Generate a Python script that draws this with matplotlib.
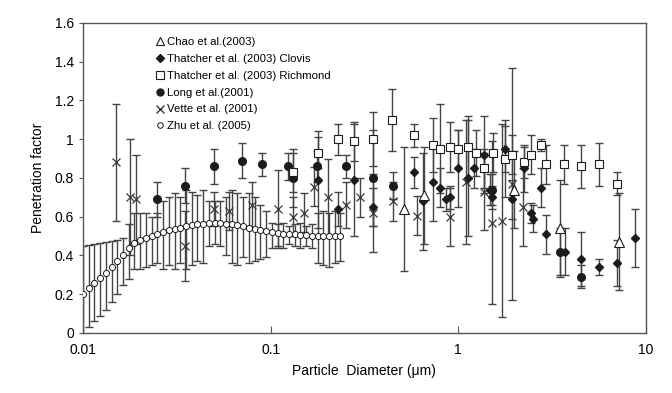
import numpy as np
import matplotlib
matplotlib.use("Agg")
import matplotlib.pyplot as plt
from matplotlib.lines import Line2D

plt.rcParams["font.family"] = ["Liberation Sans", "DejaVu Sans"]

# Zhu et al. (2005): mean with lower / upper bar ends
zhu_d = [0.0100, 0.0107, 0.0115, 0.0123, 0.0132, 0.0142, 0.0152, 0.0163, 0.0175, 0.0188,
         0.0202, 0.0217, 0.0232, 0.0249, 0.0267, 0.0287, 0.0308, 0.0330, 0.0354, 0.0380,
         0.0407, 0.0437, 0.0469, 0.0503, 0.0540, 0.0579, 0.0621, 0.0666, 0.0715, 0.0767,
         0.0822, 0.0882, 0.0946, 0.1015, 0.1089, 0.1168, 0.1253, 0.1344, 0.1442, 0.1547,
         0.1660, 0.1780, 0.1910, 0.2049, 0.2198, 0.2358]
zhu_p = [0.20, 0.23, 0.26, 0.285, 0.31, 0.34, 0.37, 0.40, 0.44, 0.465,
         0.48, 0.49, 0.50, 0.51, 0.52, 0.53, 0.535, 0.54, 0.55, 0.555,
         0.56, 0.565, 0.57, 0.57, 0.57, 0.565, 0.56, 0.555, 0.55, 0.54,
         0.535, 0.53, 0.525, 0.52, 0.515, 0.51, 0.51, 0.51, 0.505, 0.505,
         0.50, 0.50, 0.50, 0.50, 0.50, 0.50]
zhu_lo = [-0.05, 0.03, 0.06, 0.09, 0.12, 0.16, 0.20, 0.25, 0.28, 0.33,
          0.33, 0.34, 0.35, 0.36, 0.33, 0.35, 0.33, 0.36, 0.33, 0.35,
          0.37, 0.36, 0.45, 0.46, 0.45, 0.40, 0.36, 0.35, 0.39, 0.36,
          0.37, 0.38, 0.39, 0.44, 0.45, 0.44, 0.46, 0.45, 0.44, 0.45,
          0.44, 0.36, 0.35, 0.34, 0.36, 0.37]
zhu_hi = [0.45, 0.455, 0.46, 0.465, 0.47, 0.475, 0.48, 0.49, 0.56, 0.62,
          0.62, 0.62, 0.60, 0.62, 0.68, 0.70, 0.72, 0.70, 0.74, 0.73,
          0.71, 0.74, 0.68, 0.68, 0.68, 0.70, 0.74, 0.72, 0.70, 0.72,
          0.70, 0.66, 0.63, 0.57, 0.56, 0.57, 0.55, 0.56, 0.57, 0.55,
          0.56, 0.62, 0.63, 0.62, 0.63, 0.62]

# Long et al. (2001)
long_d = [0.0248, 0.035, 0.050, 0.0705, 0.090, 0.124, 0.131, 0.177, 0.253, 0.35, 0.45, 1.52, 3.5, 4.53]
long_p = [0.69, 0.76, 0.86, 0.89, 0.87, 0.86, 0.80, 0.86, 0.86, 0.80, 0.76, 0.74, 0.42, 0.29]
long_e = [0.09, 0.09, 0.09, 0.09, 0.06, 0.07, 0.15, 0.08, 0.06, 0.25, 0.07, 0.08, 0.12, 0.06]

# Thatcher et al. (2003) Clovis
clov_d = [0.178, 0.229, 0.279, 0.35, 0.58, 0.653, 0.733, 0.80, 0.86, 0.90,
          1.0, 1.13, 1.22, 1.38, 1.47, 1.52, 1.77, 1.93, 2.23, 2.44,
          2.5, 2.76, 2.94, 3.7, 4.53, 5.6, 7.0, 8.8]
clov_p = [0.79, 0.64, 0.79, 0.65, 0.83, 0.68, 0.78, 0.75, 0.69, 0.70,
          0.85, 0.80, 0.85, 0.92, 0.74, 0.70, 0.95, 0.69, 0.85, 0.62,
          0.59, 0.75, 0.51, 0.42, 0.38, 0.34, 0.36, 0.49]
clov_e = [0.25, 0.09, 0.29, 0.10, 0.08, 0.25, 0.20, 0.10, 0.06, 0.06,
          0.20, 0.30, 0.10, 0.20, 0.08, 0.06, 0.12, 0.10, 0.12, 0.05,
          0.07, 0.10, 0.10, 0.12, 0.14, 0.04, 0.12, 0.15]

# Thatcher et al. (2003) Richmond
rich_d = [0.131, 0.178, 0.228, 0.279, 0.35, 0.443, 0.58, 0.73, 0.80, 0.90,
          1.0, 1.13, 1.24, 1.38, 1.53, 1.77, 1.93, 2.23, 2.44, 2.76,
          2.94, 3.65, 4.53, 5.6, 7.0]
rich_p = [0.83, 0.93, 1.00, 0.99, 1.00, 1.10, 1.02, 0.97, 0.95, 0.96,
          0.95, 0.96, 0.93, 0.85, 0.93, 0.90, 0.92, 0.88, 0.92, 0.97,
          0.87, 0.87, 0.86, 0.87, 0.77]
rich_e = [0.10, 0.08, 0.08, 0.10, 0.14, 0.16, 0.06, 0.14, 0.23, 0.13,
          0.10, 0.16, 0.12, 0.10, 0.10, 0.20, 0.10, 0.08, 0.10, 0.03,
          0.10, 0.10, 0.11, 0.11, 0.06]

# Chao et al. (2003)
chao_d = [0.515, 0.66, 1.98, 3.5, 7.2]
chao_p = [0.64, 0.71, 0.74, 0.54, 0.47]
chao_e = [0.32, 0.25, 0.20, 0.25, 0.25]

# Vette et al. (2001)
vette_d = [0.015, 0.0179, 0.0192, 0.035, 0.050, 0.060, 0.080, 0.110, 0.131, 0.151,
           0.170, 0.203, 0.252, 0.30, 0.35, 0.45, 0.60, 0.90, 1.10, 1.37,
           1.52, 1.71, 1.93, 2.22]
vette_p = [0.88, 0.70, 0.69, 0.45, 0.64, 0.63, 0.66, 0.64, 0.60, 0.62,
           0.755, 0.70, 0.66, 0.70, 0.62, 0.68, 0.605, 0.60, 0.78, 0.73,
           0.57, 0.58, 0.77, 0.65]
vette_e = [0.30, 0.30, 0.23, 0.18, 0.09, 0.10, 0.12, 0.20, 0.10, 0.10,
           0.10, 0.20, 0.12, 0.10, 0.20, 0.10, 0.10, 0.15, 0.32, 0.20,
           0.42, 0.50, 0.60, 0.20]

BAR = "#444444"
INK = "#1c1c1c"


def draw(ax, d, p, err, **style):
    ax.errorbar(d, p, yerr=err, fmt="none", ecolor=BAR, elinewidth=1.0,
                capsize=3, capthick=1.0, zorder=2)
    ax.plot(d, p, linestyle="none", zorder=3, **style)


fig = plt.figure(figsize=(6.72, 3.93), dpi=100)
ax = fig.add_axes([0.1235, 0.1527, 0.8375, 0.7888])

zp = np.asarray(zhu_p)
draw(ax, zhu_d, zhu_p, [zp - np.asarray(zhu_lo), np.asarray(zhu_hi) - zp],
     marker="o", markersize=4.4, markerfacecolor="white", markeredgecolor=INK, markeredgewidth=0.7)
draw(ax, vette_d, vette_p, vette_e, marker="x", markersize=6, color="#3a3a3a", markeredgewidth=0.9)
draw(ax, long_d, long_p, long_e, marker="o", markersize=5.5, color=INK)
draw(ax, clov_d, clov_p, clov_e, marker="D", markersize=4.5, color=INK)
draw(ax, rich_d, rich_p, rich_e, marker="s", markersize=6, markerfacecolor="white",
     markeredgecolor=INK, markeredgewidth=0.8)
draw(ax, chao_d, chao_p, chao_e, marker="^", markersize=7, markerfacecolor="white",
     markeredgecolor=INK, markeredgewidth=0.8)

ax.set_xscale("log")
ax.set_xlim(0.01, 10)
ax.set_ylim(0, 1.6)
ax.set_xticks([0.01, 0.1, 1, 10])
ax.set_xticklabels(["0.01", "0.1", "1", "10"])
ax.minorticks_off()
ax.set_yticks(np.arange(0, 1.61, 0.2))
ax.set_yticklabels(["0", "0.2", "0.4", "0.6", "0.8", "1", "1.2", "1.4", "1.6"])
ax.tick_params(axis="x", direction="in", length=5, labelsize=10, pad=7, color="#555555")
ax.tick_params(axis="y", direction="out", length=3, labelsize=10, color="#555555")
for s in ax.spines.values():
    s.set_color("#555555")
    s.set_linewidth(1.0)
ax.set_xlabel("Particle  Diameter (\u03bcm)", fontsize=10, labelpad=5)
ax.set_ylabel("Penetration factor", fontsize=10, labelpad=7)

handles = [
    Line2D([], [], linestyle="none", marker="^", markersize=6, markerfacecolor="white", markeredgecolor=INK, markeredgewidth=0.8),
    Line2D([], [], linestyle="none", marker="D", markersize=4, color=INK),
    Line2D([], [], linestyle="none", marker="s", markersize=5.5, markerfacecolor="white", markeredgecolor=INK, markeredgewidth=0.8),
    Line2D([], [], linestyle="none", marker="o", markersize=5, color=INK),
    Line2D([], [], linestyle="none", marker="x", markersize=5.5, color="#3a3a3a"),
    Line2D([], [], linestyle="none", marker="o", markersize=4, markerfacecolor="white", markeredgecolor=INK, markeredgewidth=0.7),
]
labels = ["Chao et al.(2003)", "Thatcher et al. (2003) Clovis", "Thatcher et al. (2003) Richmond",
          "Long et al.(2001)", "Vette et al. (2001)", "Zhu et al. (2005)"]
ax.legend(handles, labels, loc="upper left", bbox_to_anchor=(0.115, 0.98), frameon=False,
          fontsize=8.2, handlelength=0.7, handletextpad=0.3, labelspacing=0.6, borderpad=0.2)

fig.savefig("out.png", dpi=100)
